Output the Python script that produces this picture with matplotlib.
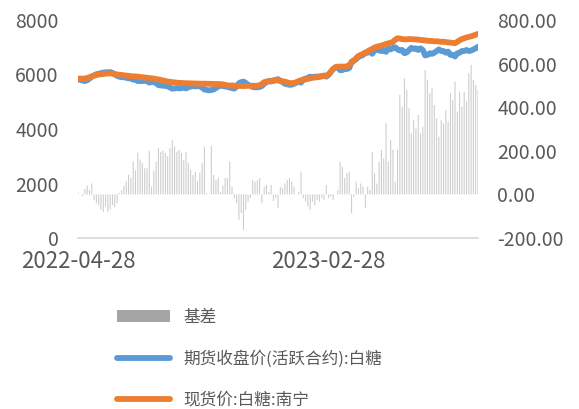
import matplotlib
matplotlib.use("Agg")
import matplotlib.pyplot as plt
import matplotlib.dates as mdates
from matplotlib.patches import Patch
from matplotlib.ticker import FormatStrFormatter
import pandas as pd

plt.rcParams['font.family'] = ['Noto Sans CJK SC', 'DejaVu Sans']

# basis = spot - futures (right axis), sampled roughly every 2 trading days
basis = [10, 0, -8, 25, 40, 20, 50, -25, -40, -50,
         -70, -80, -55, -80, -70, -50, -60, -40, 5, 20,
         40, 60, 90, 75, 150, 110, 190, 160, 143, 120,
         120, 200, 35, 110, 150, 212, 195, 200, 190, 176,
         212, 250, 220, 196, 204, 190, 158, 196, 143, 112,
         89, 104, 58, 100, 143, 219, 5, 0, 222, 89,
         66, 75, 11, 40, 75, 75, 150, 35, -17, -40,
         -117, -86, -163, -71, -33, -17, 66, 58, 66, 75,
         -40, 35, 43, 11, 43, -30, -17, -63, 35, 28,
         50, 66, 75, 58, 35, 0, 10, 104, -17, -33,
         -56, -71, -33, -48, -25, -33, -17, -25, 43, -17,
         -10, -25, 0, 20, 150, 127, 75, 97, 104, -86,
         -10, 58, 28, 50, 35, -63, 35, 20, 196, 97,
         50, 150, 204, 165, 326, 150, 250, 204, 58, 204,
         456, 402, 532, 479, 395, 280, 341, 303, 364, 280,
         310, 571, 525, 464, 487, 410, 349, 265, 341, 326,
         387, 334, 464, 433, 517, 380, 471, 402, 471, 425,
         556, 594, 525, 502, 479]

futures = [5820, 5800, 5780, 5760, 5790, 5850, 5920, 5970, 6010, 6030,
           6050, 6070, 6080, 6080, 6090, 6060, 6000, 5950, 5920, 5900,
           5900, 5880, 5860, 5860, 5810, 5820, 5760, 5760, 5760, 5770,
           5760, 5700, 5740, 5720, 5680, 5610, 5600, 5590, 5580, 5570,
           5520, 5480, 5490, 5500, 5490, 5500, 5520, 5490, 5530, 5560,
           5580, 5560, 5580, 5560, 5520, 5450, 5430, 5420, 5430, 5450,
           5500, 5560, 5600, 5580, 5560, 5550, 5520, 5500, 5480, 5560,
           5680, 5720, 5740, 5690, 5620, 5590, 5540, 5530, 5530, 5540,
           5580, 5660, 5720, 5760, 5740, 5790, 5800, 5830, 5760, 5720,
           5660, 5640, 5620, 5630, 5660, 5700, 5740, 5700, 5820, 5850,
           5880, 5920, 5900, 5920, 5920, 5930, 5940, 5960, 5920, 5990,
           6100, 6200, 6260, 6270, 6160, 6160, 6210, 6200, 6240, 6470,
           6520, 6560, 6650, 6680, 6720, 6800, 6800, 6870, 6760, 6890,
           6940, 6880, 6860, 6900, 6830, 6960, 6920, 6980, 7000, 6920,
           6880, 6900, 6780, 6810, 6900, 6980, 6940, 6960, 6900, 6960,
           6900, 6700, 6720, 6780, 6760, 6800, 6860, 6920, 6860, 6860,
           6800, 6840, 6720, 6720, 6660, 6780, 6800, 6860, 6860, 6900,
           6860, 6880, 6920, 6960, 7020]

spot = [5850, 5850, 5845, 5850, 5870, 5900, 5930, 5960, 5980, 6000,
        6010, 6020, 6030, 6040, 6040, 6035, 6020, 6000, 5990, 5980,
        5970, 5960, 5950, 5940, 5930, 5930, 5920, 5910, 5900, 5890,
        5880, 5870, 5860, 5850, 5830, 5820, 5800, 5780, 5760, 5740,
        5730, 5720, 5710, 5700, 5690, 5690, 5680, 5680, 5675, 5675,
        5670, 5670, 5665, 5665, 5660, 5665, 5660, 5660, 5655, 5655,
        5650, 5650, 5645, 5640, 5620, 5600, 5590, 5600, 5590, 5585,
        5580, 5580, 5575, 5580, 5585, 5580, 5590, 5585, 5590, 5600,
        5650, 5720, 5740, 5750, 5760, 5765, 5780, 5790, 5770, 5750,
        5740, 5710, 5690, 5680, 5690, 5720, 5760, 5790, 5810, 5820,
        5840, 5860, 5880, 5890, 5900, 5910, 5930, 5950, 5960, 6000,
        6100, 6200, 6270, 6290, 6290, 6290, 6290, 6300, 6350, 6430,
        6500, 6600, 6680, 6720, 6760, 6800, 6850, 6900, 6940, 6990,
        7020, 7040, 7060, 7090, 7120, 7140, 7170, 7200, 7280, 7330,
        7320, 7300, 7290, 7290, 7300, 7300, 7290, 7290, 7280, 7270,
        7260, 7250, 7240, 7230, 7230, 7220, 7220, 7210, 7200, 7200,
        7190, 7180, 7170, 7160, 7150, 7200, 7260, 7300, 7330, 7360,
        7380, 7400, 7430, 7460, 7490]

labels = ["基差", "期货收盘价(活跃合约):白糖", "现货价:白糖:南宁"]
tick_dates = ["2022-04-28", "2023-02-28"]

dates = pd.date_range("2022-04-28", "2023-08-31", periods=len(basis))

GRAY_TXT = "#595959"
fig = plt.figure(figsize=(5.79, 4.09), dpi=100)
ax = fig.add_axes([78/579, 1-238/409, 400/579, 218/409])
ax2 = ax.twinx()

# thin bars render lighter than the legend swatch, as in the original
ax2.bar(dates, basis, width=1.3, color="#cccccc", linewidth=0, zorder=1, snap=False)
l1, = ax.plot(dates, futures, color="#5b9bd5", lw=4.2, solid_capstyle="round", solid_joinstyle="round", zorder=3)
l2, = ax.plot(dates, spot, color="#ed7d31", lw=4.2, solid_capstyle="round", solid_joinstyle="round", zorder=4)

# lines above the bars
ax.set_zorder(ax2.get_zorder() + 1)
ax.patch.set_visible(False)

ax.set_ylim(0, 8000)
ax.set_yticks(range(0, 8001, 2000))
ax2.set_ylim(-200, 800)
ax2.set_yticks(range(-200, 801, 200))
ax2.yaxis.set_major_formatter(FormatStrFormatter("%.2f"))
ax.set_xlim(dates[0], dates[-1])
ax.set_xticks(pd.to_datetime(tick_dates))
ax.xaxis.set_major_formatter(mdates.DateFormatter("%Y-%m-%d"))

for a in (ax, ax2):
    for s in a.spines.values():
        s.set_visible(False)
    a.tick_params(length=0, labelsize=14, labelcolor=GRAY_TXT)
ax.spines["bottom"].set_visible(True)
ax.spines["bottom"].set_color("#d9d9d9")
ax.spines["bottom"].set_linewidth(1.2)
ax.tick_params(axis="y", pad=14)
ax2.tick_params(axis="y", pad=14)
ax.tick_params(axis="x", pad=9, labelsize=16)

swatch = Patch(facecolor="#a5a5a5", edgecolor="none")
leg = fig.legend([swatch, l1, l2], labels, loc="upper left", bbox_to_anchor=(102/579, 1-294/409),
                 frameon=False, fontsize=12, labelcolor=GRAY_TXT, handlelength=3.2,
                 labelspacing=1.45, handletextpad=0.8)

fig.savefig("out.png", dpi=100)
